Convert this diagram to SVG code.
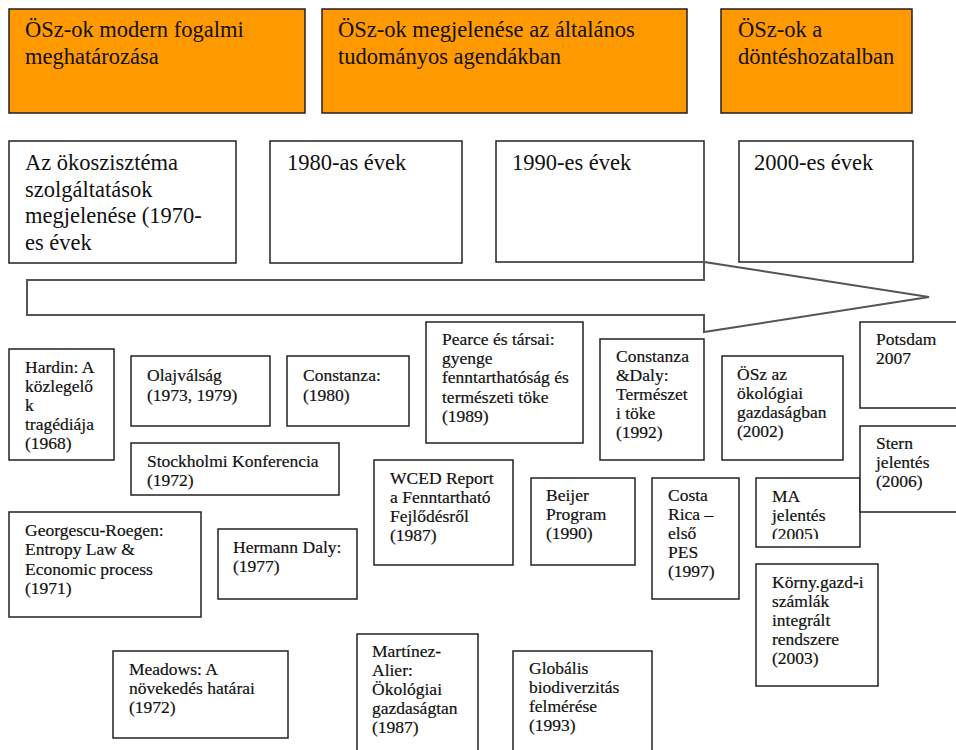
<svg xmlns="http://www.w3.org/2000/svg" width="956" height="750" viewBox="0 0 956 750">
<style>
.hdr{fill:#FF9900;stroke:#222;stroke-width:1.5}
.box{fill:#fff;stroke:#222;stroke-width:1.5}
.arrow{fill:#fff;stroke:#555;stroke-width:2;stroke-linejoin:miter}
.t{font-family:"Liberation Serif","Times New Roman",serif;font-size:17.5px;fill:#111;stroke:#111;stroke-width:0.2}
.tl{font-family:"Liberation Serif","Times New Roman",serif;font-size:22.5px;fill:#111}
</style>
<defs>
<clipPath id="maClip"><rect x="756" y="478" width="104" height="61"/></clipPath>
</defs>
<rect width="956" height="750" fill="#fff"/>

<g id="hdr1"><rect class="hdr" x="9" y="9" width="296" height="104"/>
<text class="tl" x="25" y="37">ÖSz-ok modern fogalmi<tspan x="25" dy="26.7">meghatározása</tspan></text></g>
<g id="hdr2"><rect class="hdr" x="322" y="9" width="365" height="104"/>
<text class="tl" x="338" y="37">ÖSz-ok megjelenése az általános<tspan x="338" dy="26.7">tudományos agendákban</tspan></text></g>
<g id="hdr3"><rect class="hdr" x="721" y="9" width="191" height="104"/>
<text class="tl" x="738" y="37">ÖSz-ok a<tspan x="738" dy="26.7">döntéshozatalban</tspan></text></g>

<g id="era1970"><rect class="box" x="9" y="141" width="227" height="122"/>
<text class="tl" x="25" y="170">Az ökoszisztéma<tspan x="25" dy="26.7">szolgáltatások</tspan><tspan x="25" dy="26.7">megjelenése (1970-</tspan><tspan x="25" dy="26.7">es évek</tspan></text></g>
<g id="era1980"><rect class="box" x="270" y="141" width="192" height="122"/>
<text class="tl" x="287" y="170">1980-as évek</text></g>
<g id="era1990"><rect class="box" x="496" y="141" width="208" height="121"/>
<text class="tl" x="512" y="170">1990-es évek</text></g>
<g id="era2000"><rect class="box" x="739" y="141" width="174" height="121"/>
<text class="tl" x="754" y="170">2000-es évek</text></g>

<g id="connectors">
<polygon class="arrow" points="27,280 704,280 704,262 929,297 704,332 704,315 27,315"/>
</g>

<g id="hardin"><rect class="box" x="9" y="349" width="105" height="111"/>
<text class="t" x="25" y="373">Hardin: A<tspan x="25" dy="19">közlegelő</tspan><tspan x="25" dy="19">k</tspan><tspan x="25" dy="19">tragédiája</tspan><tspan x="25" dy="19">(1968)</tspan></text></g>
<g id="olaj"><rect class="box" x="131" y="356" width="139" height="70"/>
<text class="t" x="147" y="381">Olajválság<tspan x="147" dy="19.5">(1973, 1979)</tspan></text></g>
<g id="constanza"><rect class="box" x="287" y="356" width="122" height="70"/>
<text class="t" x="303" y="381">Constanza:<tspan x="303" dy="19.5">(1980)</tspan></text></g>
<g id="stockholm"><rect class="box" x="131" y="443" width="208" height="52"/>
<text class="t" x="147" y="467">Stockholmi Konferencia<tspan x="147" dy="19">(1972)</tspan></text></g>
<g id="pearce"><rect class="box" x="426" y="322" width="157" height="121"/>
<text class="t" x="442" y="345">Pearce és társai:<tspan x="442" dy="19.2">gyenge</tspan><tspan x="442" dy="19.2">fenntarthatóság és</tspan><tspan x="442" dy="19.2">természeti  töke</tspan><tspan x="442" dy="19.2">(1989)</tspan></text></g>
<g id="wced"><rect class="box" x="374" y="460" width="139" height="105"/>
<text class="t" x="390" y="484">WCED Report<tspan x="390" dy="19">a Fenntartható</tspan><tspan x="390" dy="19">Fejlődésről</tspan><tspan x="390" dy="19">(1987)</tspan></text></g>
<g id="beijer"><rect class="box" x="531" y="478" width="104" height="87"/>
<text class="t" x="546" y="501">Beijer<tspan x="546" dy="19">Program</tspan><tspan x="546" dy="19">(1990)</tspan></text></g>
<g id="constanzadaly"><rect class="box" x="600" y="339" width="104" height="121"/>
<text class="t" x="616" y="362">Constanza<tspan x="616" dy="19">&amp;Daly:</tspan><tspan x="616" dy="19">Természet</tspan><tspan x="616" dy="19">i töke</tspan><tspan x="616" dy="19">(1992)</tspan></text></g>
<g id="osz-eco"><rect class="box" x="722" y="356" width="121" height="104"/>
<text class="t" x="737" y="380">ÖSz az<tspan x="737" dy="19">ökológiai</tspan><tspan x="737" dy="19">gazdaságban</tspan><tspan x="737" dy="19">(2002)</tspan></text></g>
<g id="potsdam"><rect class="box" x="860" y="322" width="110" height="86"/>
<text class="t" x="876" y="345">Potsdam<tspan x="876" dy="19">2007</tspan></text></g>
<g id="ma"><rect class="box" x="756" y="478" width="104" height="69"/>
<g clip-path="url(#maClip)"><text class="t" x="772" y="502">MA<tspan x="772" dy="19">jelentés</tspan><tspan x="772" dy="19">(2005)</tspan></text></g></g>
<g id="stern"><rect class="box" x="860" y="426" width="110" height="86"/>
<text class="t" x="876" y="449">Stern<tspan x="876" dy="19">jelentés</tspan><tspan x="876" dy="19">(2006)</tspan></text></g>
<g id="costarica"><rect class="box" x="652" y="478" width="87" height="121"/>
<text class="t" x="668" y="501">Costa<tspan x="668" dy="19">Rica –</tspan><tspan x="668" dy="19">első</tspan><tspan x="668" dy="19">PES</tspan><tspan x="668" dy="19">(1997)</tspan></text></g>
<g id="kornygazd"><rect class="box" x="756" y="564" width="122" height="122"/>
<text class="t" x="772" y="588">Körny.gazd-i<tspan x="772" dy="19">számlák</tspan><tspan x="772" dy="19">integrált</tspan><tspan x="772" dy="19">rendszere</tspan><tspan x="772" dy="19">(2003)</tspan></text></g>
<g id="georgescu"><rect class="box" x="9" y="512" width="192" height="105"/>
<text class="t" x="25" y="536">Georgescu-Roegen:<tspan x="25" dy="19.3">Entropy Law &amp;</tspan><tspan x="25" dy="19.3">Economic process</tspan><tspan x="25" dy="19.3">(1971)</tspan></text></g>
<g id="hermanndaly"><rect class="box" x="218" y="529" width="139" height="70"/>
<text class="t" x="233" y="553">Hermann Daly:<tspan x="233" dy="19">(1977)</tspan></text></g>
<g id="meadows"><rect class="box" x="113" y="651" width="175" height="87"/>
<text class="t" x="129" y="675">Meadows: A<tspan x="129" dy="19">növekedés határai</tspan><tspan x="129" dy="19">(1972)</tspan></text></g>
<g id="martinez"><rect class="box" x="357" y="634" width="121" height="130"/>
<text class="t" x="372" y="657">Martínez-<tspan x="372" dy="19">Alier:</tspan><tspan x="372" dy="19">Ökológiai</tspan><tspan x="372" dy="19">gazdaságtan</tspan><tspan x="372" dy="19">(1987)</tspan></text></g>
<g id="globalis"><rect class="box" x="513" y="651" width="139" height="110"/>
<text class="t" x="529" y="674">Globális<tspan x="529" dy="19">biodiverzitás</tspan><tspan x="529" dy="19">felmérése</tspan><tspan x="529" dy="19">(1993)</tspan></text></g>
</svg>
